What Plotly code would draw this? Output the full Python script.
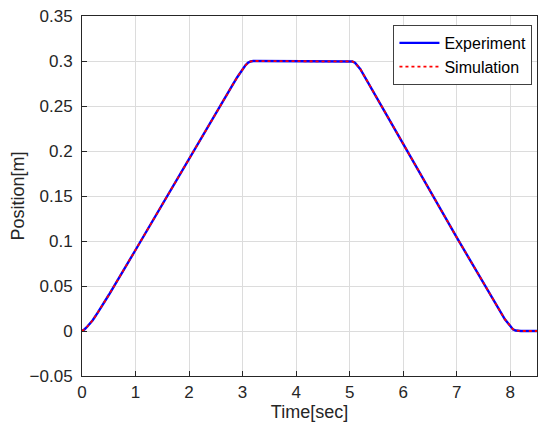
import plotly.graph_objects as go

# Measured position of the stage vs. time
time_s = [0.0, 0.05, 0.1, 0.2, 0.3, 0.5, 1.0, 2.0, 2.8, 2.9, 3.0, 3.05, 3.1, 3.15, 3.2,
          5.0, 5.05, 5.1, 5.2, 6.0, 7.0, 7.9, 8.0, 8.05, 8.1, 8.15, 8.2, 8.5]
experiment_m = [0.0, 0.002, 0.005, 0.012, 0.021, 0.040, 0.090, 0.192, 0.272, 0.282,
                0.291, 0.295, 0.298, 0.2995, 0.300, 0.300, 0.2995, 0.298, 0.291,
                0.208, 0.104, 0.013, 0.005, 0.002, 0.0005, 0.0, 0.0, 0.0]
simulation_m = [0.0, 0.002, 0.005, 0.012, 0.021, 0.040, 0.090, 0.192, 0.272, 0.282,
                0.291, 0.295, 0.298, 0.2995, 0.300, 0.300, 0.2995, 0.298, 0.291,
                0.208, 0.104, 0.013, 0.005, 0.002, 0.0005, 0.0, 0.0, 0.0]

x_ticks = [0, 1, 2, 3, 4, 5, 6, 7, 8]
y_ticks = [-0.05, 0, 0.05, 0.1, 0.15, 0.2, 0.25, 0.3, 0.35]
y_tick_text = ["\u22120.05", "0", "0.05", "0.1", "0.15", "0.2", "0.25", "0.3", "0.35"]

font_family = "Liberation Sans, Arial, sans-serif"
axis_color = "#262626"

fig = go.Figure()
fig.add_trace(go.Scatter(x=time_s, y=experiment_m, mode="lines", name="Experiment",
                         line=dict(color="#0000ff", width=2.4)))
fig.add_trace(go.Scatter(x=time_s, y=simulation_m, mode="lines", name="Simulation",
                         line=dict(color="#ff0000", width=1.8, dash="dot")))

axis_common = dict(showline=True, linecolor=axis_color, linewidth=1, mirror=True,
                   ticks="inside", ticklen=5, tickcolor=axis_color,
                   showgrid=True, gridcolor="#dcdcdc", gridwidth=1, zeroline=False,
                   tickfont=dict(family=font_family, size=17, color=axis_color))

fig.update_xaxes(range=[0, 8.5], tickvals=x_ticks, ticklabelstandoff=1,
                 title=dict(text="Time[sec]", standoff=1,
                            font=dict(family=font_family, size=18, color=axis_color)),
                 **axis_common)
fig.update_yaxes(range=[-0.05, 0.35], tickvals=y_ticks, ticktext=y_tick_text,
                 ticklabelstandoff=5,
                 title=dict(text="Position[m]", standoff=0,
                            font=dict(family=font_family, size=18, color=axis_color)),
                 **axis_common)

fig.update_layout(
    width=539, height=425,
    margin=dict(l=82, r=2, t=16, b=49),
    plot_bgcolor="white", paper_bgcolor="white",
    showlegend=True,
    legend=dict(x=0.99, y=0.975, xanchor="right", yanchor="top",
                bgcolor="white", bordercolor="#404040", borderwidth=1,
                font=dict(family=font_family, size=16, color="#000000"),
                tracegroupgap=0, itemwidth=40),
)

fig.write_html("out.html")
